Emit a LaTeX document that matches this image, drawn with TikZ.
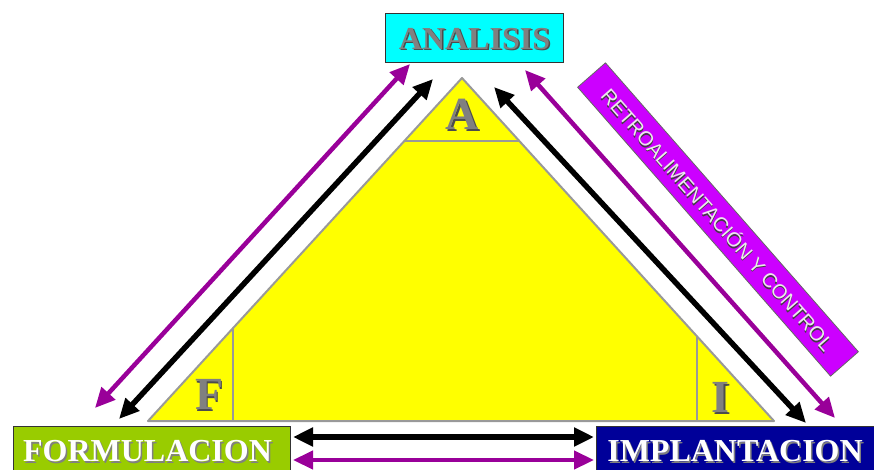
\documentclass[tikz,border=0pt]{standalone}
\usepackage{fontspec}
\setmainfont{Liberation Serif}
\newfontfamily\bannerfont{Liberation Sans}
\usetikzlibrary{arrows.meta}
\definecolor{cyanbox}{HTML}{00FFFF}
\definecolor{greenbox}{HTML}{99CC00}
\definecolor{bluebox}{HTML}{000099}
\definecolor{pyramid}{HTML}{FFFF00}
\definecolor{edgegray}{HTML}{999999}
\definecolor{lettergray}{HTML}{808080}
\definecolor{arrowpurple}{HTML}{990099}
\definecolor{bannerviolet}{HTML}{CC00FF}
% text with a drop shadow: #1 shadow colour, #2 offset, #3 text
\newcommand\embossed[3]{\rlap{\hskip#2\raisebox{-#2}{\textcolor{#1}{#3}}}#3}
\tikzset{
  stagebox/.style={draw=black!80, line width=0.8pt, inner sep=0pt, minimum height=46pt},
  bigfont/.style={font=\fontsize{32}{32}\bfseries\selectfont},
  letterfont/.style={font=\fontsize{46}{46}\bfseries\selectfont, text=lettergray},
  linkarrow/.style={{Triangle[length=20pt,width=18pt]}-{Triangle[length=20pt,width=18pt]}},
  blacklink/.style={linkarrow, draw=black, line width=5.5pt},
  purplelink/.style={linkarrow, draw=arrowpurple, line width=4.5pt},
  innerline/.style={draw=edgegray, line width=2pt},
}
\begin{document}
\begin{tikzpicture}[x=1pt,y=-1pt]
\useasboundingbox (0,0) rectangle (874,470);

% pyramid
\coordinate (apex) at (462,78);
\coordinate (baseL) at (148,421);
\coordinate (baseR) at (774,421);
\filldraw[fill=pyramid, draw=edgegray, line width=2pt, line join=round] (apex) -- (baseL) -- (baseR) -- cycle;
\coordinate (aL) at (404,141);
\coordinate (aR) at (519,141);
\coordinate (fT) at (233,329);
\coordinate (fB) at (233,421);
\coordinate (iT) at (697,336);
\coordinate (iB) at (697,421);
\draw[innerline] (aL) -- (aR);
\draw[innerline] (fT) -- (fB);
\draw[innerline] (iT) -- (iB);

% corner letters
\node[letterfont] (lA) at (462.5,115.5) {\embossed{black!70}{1.5pt}{A}};
\node[letterfont] (lF) at (209.5,395.5) {\embossed{black!70}{1.5pt}{F}};
\node[letterfont] (lI) at (720.5,398.5) {\embossed{black!70}{1.5pt}{I}};

% stage boxes
\node[stagebox, fill=cyanbox, minimum width=178pt, minimum height=49pt] (analisis) at (474,37.5) {};
\node[bigfont, text=lettergray] (analisis-t) at (474.5,39.5) {\embossed{black!70}{1.5pt}{ANALISIS}};

\node[stagebox, fill=greenbox, minimum width=277pt] (formulacion) at (151.5,449) {};
\node[bigfont, text=white] (formulacion-t) at (147.5,452) {\embossed{lettergray}{1.5pt}{FORMULACION}};

\node[stagebox, fill=bluebox, minimum width=278pt] (implantacion) at (735,449) {};
\node[bigfont, text=white] (implantacion-t) at (735,452) {\embossed{lettergray}{1.5pt}{IMPLANTACION}};

% feedback banner
\node[draw=black!60, line width=0.8pt, fill=bannerviolet, rotate=-48.8,
      minimum width=384pt, minimum height=37pt, inner sep=0pt,
      font=\bannerfont\fontsize{20}{20}\selectfont, text=white!92!black] (banner) at (718,219.5)
      {\embossed{black!75}{1.2pt}{RETROALIMENTACIÓN Y CONTROL}};

% arrow end points
\coordinate (lbF) at (119,419);
\coordinate (lbA) at (433,79);
\coordinate (lpF) at (95,408);
\coordinate (lpA) at (410,64);
\coordinate (rbA) at (494,87);
\coordinate (rbI) at (806,423);
\coordinate (rpA) at (525,70);
\coordinate (rpI) at (835,418);
\coordinate (hbF) at (293,437);
\coordinate (hbI) at (594,437);
\coordinate (hpF) at (293,460);
\coordinate (hpI) at (594,460);

\draw[purplelink] (lpF) -- (lpA);
\draw[blacklink] (lbF) -- (lbA);
\draw[blacklink] (rbA) -- (rbI);
\draw[purplelink] (rpA) -- (rpI);
\draw[blacklink] (hbF) -- (hbI);
\draw[purplelink] (hpF) -- (hpI);
\end{tikzpicture}
\end{document}
